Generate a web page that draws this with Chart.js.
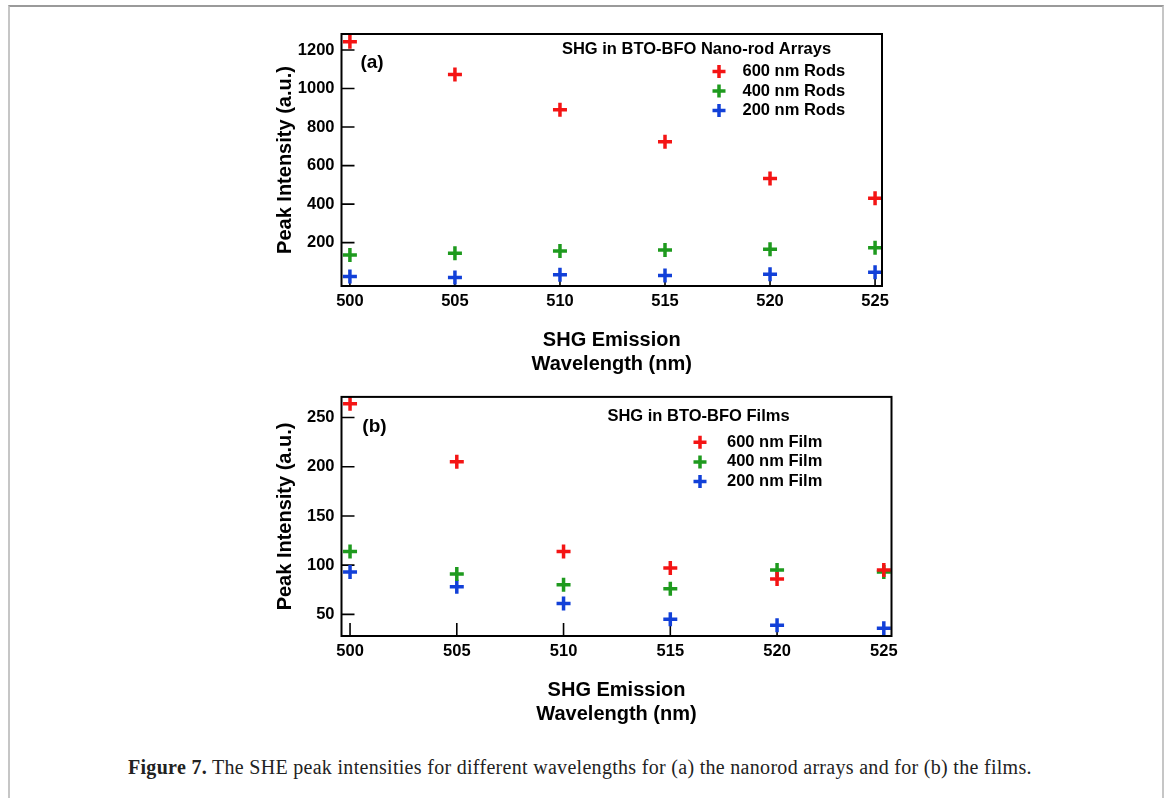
<!DOCTYPE html>
<html>
<head>
<meta charset="utf-8">
<script src="https://cdn.jsdelivr.net/npm/chart.js@4.4.0/dist/chart.umd.min.js"></script>
<style>
  html, body { margin: 0; padding: 0; background: #fff; }
  body { width: 1168px; height: 798px; position: relative; overflow: hidden; }
  #frame {
    position: absolute; left: 8px; top: 5px; width: 1152px; height: 820px;
    border-top: 2px solid #9a9a9a; border-left: 2px solid #c6c6c6; border-right: 2px solid #c6c6c6;
  }
  .plot { position: absolute; left: 0; }
  #chartA { top: 0; }
  #chartB { top: 380px; }
  #caption {
    position: absolute; left: 128px; top: 757px; line-height: 20px;
    font-family: "Liberation Serif", "Times New Roman", serif; font-size: 20px; letter-spacing: 0.3px; color: #222;
    white-space: nowrap;
  }
</style>
</head>
<body>
<div id="frame"></div>
<canvas id="chartA" class="plot" width="1168" height="380"></canvas>
<canvas id="chartB" class="plot" width="1168" height="360"></canvas>
<div id="caption"><b>Figure 7.</b> The SHE peak intensities for different wavelengths for (a) the nanorod arrays and for (b) the films.</div>

<script>
/* =========================
   Data
========================= */

const wavelengths = [500, 505, 510, 515, 520, 525];

// (a) nano-rod arrays
const rods600 = [1243, 1073, 890, 724, 533, 430];
const rods400 = [136, 145, 157, 162, 166, 174];
const rods200 = [24, 19, 33, 29, 36, 47];
const rodLabels = ["600 nm Rods", "400 nm Rods", "200 nm Rods"];

// (b) films
const film600 = [264, 205, 114, 97, 86, 95];
const film400 = [114, 91, 80, 76, 95, 93];
const film200 = [93, 78, 61, 45, 39, 36];
const filmLabels = ["600 nm Film", "400 nm Film", "200 nm Film"];

const xTicks = [500, 505, 510, 515, 520, 525];
const yTicksA = [200, 400, 600, 800, 1000, 1200];
const yTicksB = [50, 100, 150, 200, 250];

const seriesColors = ["#f41414", "#1e9a1e", "#1240d8"];
const FONT = "'Liberation Sans', Arial, Helvetica, sans-serif";

/* =========================
   Plugins
========================= */

// box frame + inward tick marks
const framePlugin = {
  id: "frameTicks",
  beforeDatasetsDraw(chart) {
    const { ctx, chartArea: a, scales: { x, y } } = chart;
    ctx.save();
    ctx.strokeStyle = "#000";
    ctx.lineWidth = 1.6;
    ctx.beginPath();
    x.ticks.forEach(t => {
      const px = x.getPixelForValue(t.value);
      ctx.moveTo(px, a.bottom);
      ctx.lineTo(px, a.bottom - 13);
    });
    y.ticks.forEach(t => {
      const py = y.getPixelForValue(t.value);
      ctx.moveTo(a.left, py);
      ctx.lineTo(a.left + 13, py);
    });
    ctx.stroke();
    ctx.restore();
  },
  afterDatasetsDraw(chart) {
    const { ctx, chartArea: a } = chart;
    ctx.save();
    ctx.strokeStyle = "#000";
    ctx.lineWidth = 2;
    ctx.strokeRect(a.left, a.top, a.right - a.left, a.bottom - a.top);
    ctx.restore();
  }
};

function drawCross(ctx, cx, cy, r, color) {
  ctx.save();
  ctx.strokeStyle = color;
  ctx.lineWidth = 3.5;
  ctx.beginPath();
  ctx.moveTo(cx - r, cy);
  ctx.lineTo(cx + r, cy);
  ctx.moveTo(cx, cy - r);
  ctx.lineTo(cx, cy + r);
  ctx.stroke();
  ctx.restore();
}

// legend with title and panel letter, placed inside the plot box
const panelLegend = {
  id: "panelLegend",
  afterDraw(chart, args, opts) {
    const { ctx, chartArea: a } = chart;
    ctx.save();
    ctx.fillStyle = "#000";
    ctx.textBaseline = "middle";

    ctx.font = "bold 19px " + FONT;
    ctx.textAlign = "center";
    ctx.fillText(opts.panel, a.left + opts.panelX, a.top + opts.panelY);

    ctx.font = "bold 16.5px " + FONT;
    ctx.fillText(opts.title, a.left + opts.titleX, a.top + opts.titleY);

    ctx.textAlign = "left";
    chart.data.datasets.forEach((ds, i) => {
      const yy = a.top + opts.itemY + i * opts.itemGap;
      drawCross(ctx, a.left + opts.markX, yy, 6.5, ds.borderColor);
      ctx.fillStyle = "#000";
      ctx.fillText(ds.label, a.left + opts.textX, yy);
    });
    ctx.restore();
  }
};

/* =========================
   Chart builder
========================= */

function makeDatasets(labels, seriesList) {
  return seriesList.map((vals, i) => ({
    label: labels[i],
    data: wavelengths.map((w, j) => ({ x: w, y: vals[j] })),
    showLine: false,
    pointStyle: "cross",
    pointRadius: 7,
    pointHoverRadius: 7,
    pointBorderWidth: 3.5,
    borderColor: seriesColors[i],
    backgroundColor: seriesColors[i],
    clip: false
  }));
}

function makeChart(canvasId, datasets, cfg) {
  const tickFont = { family: FONT, size: 16.5, weight: "bold" };
  const titleFont = { family: FONT, size: 20, weight: "bold" };

  return new Chart(document.getElementById(canvasId), {
    type: "scatter",
    data: { datasets },
    plugins: [framePlugin, panelLegend],
    options: {
      responsive: false,
      animation: false,
      events: [],
      layout: { padding: cfg.padding },
      scales: {
        x: {
          type: "linear",
          min: 499.6,
          max: cfg.xMax,
          afterBuildTicks: s => { s.ticks = xTicks.map(v => ({ value: v })); },
          afterFit: s => { s.height = 90; },
          grid: { display: false, drawTicks: false },
          border: { display: false },
          ticks: { font: tickFont, color: "#000", padding: 6, maxRotation: 0, autoSkip: false, callback: v => String(v) },
          title: { display: true, text: ["SHG Emission", "Wavelength (nm)"], font: titleFont, color: "#000", padding: 0 }
        },
        y: {
          type: "linear",
          min: cfg.yMin,
          max: cfg.yMax,
          afterBuildTicks: s => { s.ticks = cfg.yTicks.map(v => ({ value: v })); },
          afterFit: s => { s.width = 68.5; },
          grid: { display: false, drawTicks: false },
          border: { display: false },
          ticks: { font: tickFont, color: "#000", padding: 7, autoSkip: false, callback: v => String(v) },
          title: { display: true, text: "Peak Intensity (a.u.)", font: titleFont, color: "#000", padding: 0 }
        }
      },
      plugins: {
        legend: { display: false },
        tooltip: { enabled: false },
        panelLegend: cfg.legend
      }
    }
  });
}

/* =========================
   Panel (a) and (b)
========================= */

makeChart("chartA", makeDatasets(rodLabels, [rods600, rods400, rods200]), {
  padding: { left: 273, right: 286, top: 34, bottom: 4 },
  xMax: 525.33,
  yMin: -25,
  yMax: 1283,
  yTicks: yTicksA,
  legend: {
    panel: "(a)", panelX: 30.5, panelY: 29,
    title: "SHG in BTO-BFO Nano-rod Arrays", titleX: 355, titleY: 15,
    markX: 377.5, textX: 401, itemY: 37.5, itemGap: 19.5
  }
});

makeChart("chartB", makeDatasets(filmLabels, [film600, film400, film200]), {
  padding: { left: 273, right: 276.5, top: 4, bottom: 14 },
  xMax: 525.36,
  yMin: 28,
  yMax: 271,
  yTicks: yTicksB,
  legend: {
    panel: "(b)", panelX: 33, panelY: 30,
    title: "SHG in BTO-BFO Films", titleX: 357, titleY: 20,
    markX: 358.5, textX: 385.5, itemY: 45.3, itemGap: 19.7
  }
});
</script>
</body>
</html>
